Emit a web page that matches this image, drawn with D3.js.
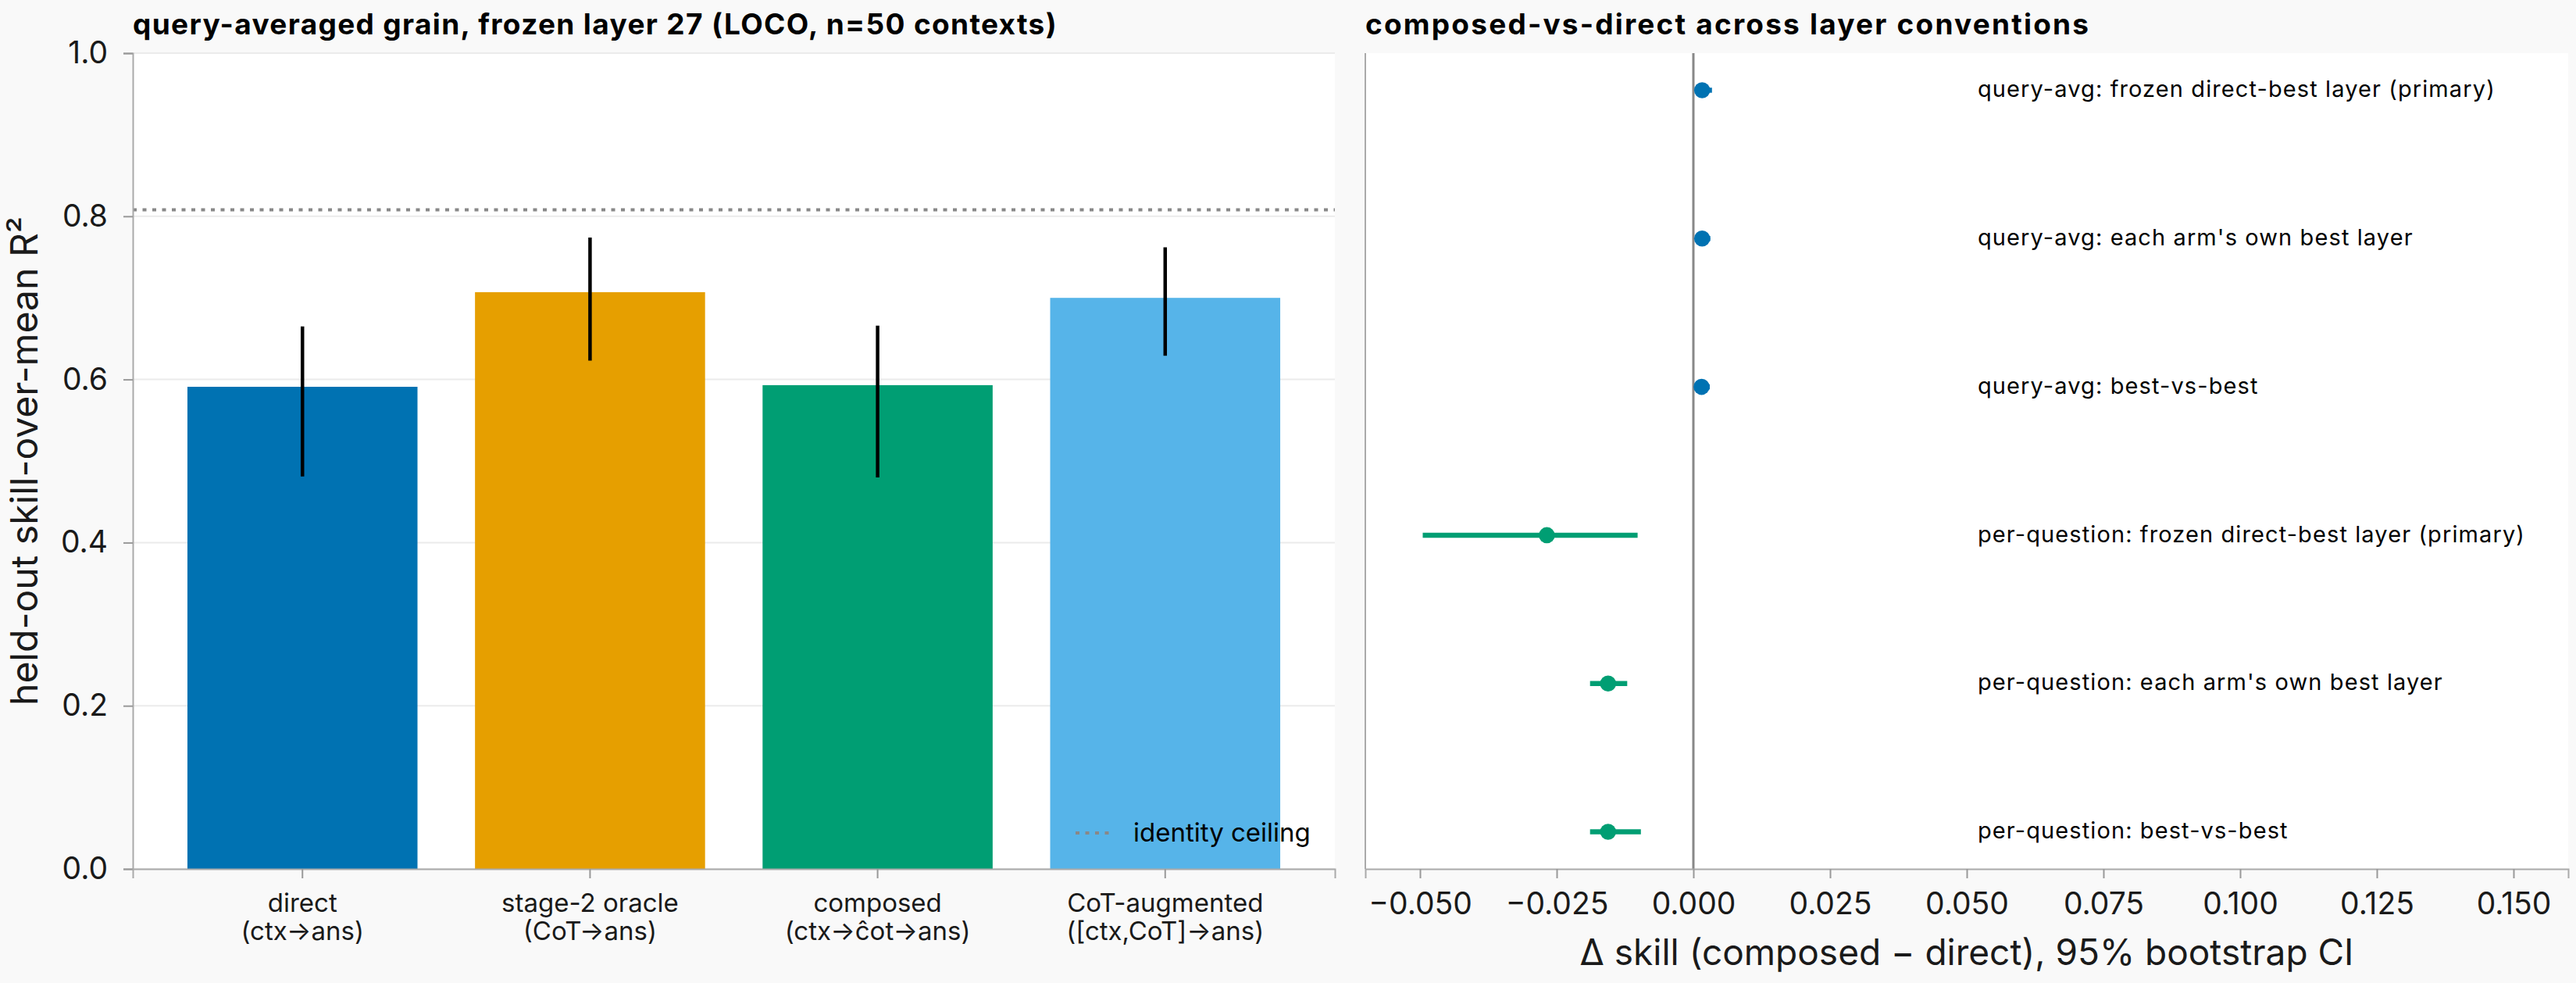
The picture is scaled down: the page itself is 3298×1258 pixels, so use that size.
<!DOCTYPE html>
<html>
<head>
<meta charset="utf-8">
<script src="https://cdn.jsdelivr.net/npm/d3@7"></script>
<style>
  html, body { margin: 0; padding: 0; background: #f9f9f9; }
  svg { display: block; font-family: Inter, "Noto Sans", sans-serif; }
</style>
</head>
<body>
<svg id="chart" width="3298" height="1258"></svg>
<script>
// ---- data: left panel ----
const categories = ["direct", "stage-2 oracle", "composed", "CoT-augmented"];
const categorySub = ["(ctx→ans)", "(CoT→ans)", "(ctx→ĉot→ans)", "([ctx,CoT]→ans)"];
const barValues = [0.591, 0.707, 0.593, 0.700];
const barLow = [0.481, 0.623, 0.480, 0.629];
const barHigh = [0.665, 0.774, 0.666, 0.762];
const barColors = ["#0072B2", "#E69F00", "#009E73", "#56B4E9"];
const identityCeiling = 0.808;
const yTicks = [0.0, 0.2, 0.4, 0.6, 0.8, 1.0];

// ---- data: right panel ----
const conventions = [
  "query-avg: frozen direct-best layer (primary)",
  "query-avg: each arm's own best layer",
  "query-avg: best-vs-best",
  "per-question: frozen direct-best layer (primary)",
  "per-question: each arm's own best layer",
  "per-question: best-vs-best"
];
const deltaEst = [0.0016, 0.0016, 0.0015, -0.0268, -0.0156, -0.0156];
const deltaLow = [0.0008, 0.0008, 0.0007, -0.0495, -0.0189, -0.0189];
const deltaHigh = [0.0034, 0.0031, 0.0030, -0.0102, -0.0121, -0.0096];
const convGroup = ["query", "query", "query", "question", "question", "question"];
const groupColors = { query: "#0072B2", question: "#009E73" };
const xTicksRight = [-0.05, -0.025, 0, 0.025, 0.05, 0.075, 0.1, 0.125, 0.15];

const svg = d3.select("#chart");
svg.append("rect").attr("width", 3298).attr("height", 1258).attr("fill", "#f9f9f9");

const plotTop = 68, plotBottom = 1112;
const axisGrey = "#aaaaaa";
const tickGrey = "#999999";
const textCol = "#1a1a1a";

// ================= LEFT PANEL =================
const L = { left: 170, right: 1709 };
const xL = d3.scaleBand().domain(categories).range([L.left, L.right]).paddingInner(0.2).paddingOuter(0.19);
const yL = d3.scaleLinear().domain([0, 1]).range([plotBottom, plotTop]);

const gL = svg.append("g");
gL.append("rect").attr("x", L.left).attr("y", plotTop).attr("width", L.right - L.left).attr("height", plotBottom - plotTop).attr("fill", "#ffffff");

// grid
gL.append("g").selectAll("line").data(yTicks).join("line")
  .attr("x1", L.left).attr("x2", L.right)
  .attr("y1", d => yL(d)).attr("y2", d => yL(d))
  .attr("stroke", "#ebebeb").attr("stroke-width", 2);

// bars
gL.append("g").selectAll("rect").data(categories).join("rect")
  .attr("x", d => xL(d)).attr("width", xL.bandwidth())
  .attr("y", (d, i) => yL(barValues[i])).attr("height", (d, i) => yL(0) - yL(barValues[i]))
  .attr("fill", (d, i) => barColors[i]);

// error bars
gL.append("g").selectAll("line").data(categories).join("line")
  .attr("x1", d => xL(d) + xL.bandwidth() / 2).attr("x2", d => xL(d) + xL.bandwidth() / 2)
  .attr("y1", (d, i) => yL(barLow[i])).attr("y2", (d, i) => yL(barHigh[i]))
  .attr("stroke", "#000").attr("stroke-width", 4.5);

// identity ceiling
gL.append("line")
  .attr("x1", L.left).attr("x2", L.right)
  .attr("y1", yL(identityCeiling)).attr("y2", yL(identityCeiling))
  .attr("stroke", "#888888").attr("stroke-width", 4).attr("stroke-dasharray", "5,7.5");

// y axis
const yAxisL = d3.axisLeft(yL).tickValues(yTicks).tickFormat(d3.format(".1f")).tickSize(12).tickPadding(20);
const gyL = gL.append("g").attr("transform", `translate(${L.left},0)`).call(yAxisL);
gyL.select(".domain").attr("stroke", axisGrey).attr("stroke-width", 2);
gyL.selectAll(".tick line").attr("stroke", tickGrey).attr("stroke-width", 2);
gyL.selectAll(".tick text").attr("font-size", 39).attr("fill", textCol).attr("font-family", "Inter");

// x axis
const xAxisL = d3.axisBottom(xL).tickSize(12).tickFormat("");
const gxL = gL.append("g").attr("transform", `translate(0,${plotBottom})`).call(xAxisL);
gxL.select(".domain").attr("stroke", axisGrey).attr("stroke-width", 2);
gxL.selectAll(".tick line").attr("stroke", tickGrey).attr("stroke-width", 2);
gxL.selectAll(".tick").each(function(d, i) {
  const t = d3.select(this).append("text").attr("fill", textCol).attr("font-size", 33)
    .attr("text-anchor", "middle").attr("font-family", "Inter");
  t.append("tspan").attr("x", 0).attr("y", 55).text(categories[i]);
  t.append("tspan").attr("x", 0).attr("y", 91).text(categorySub[i]);
});

// y label
svg.append("text").attr("transform", `translate(48,${(plotTop + plotBottom) / 2}) rotate(-90)`)
  .attr("text-anchor", "middle").attr("font-size", 48).attr("fill", textCol)
  .text("held-out skill-over-mean R²");

// title
svg.append("text").attr("x", L.left).attr("y", 44).attr("font-size", 37).attr("font-weight", "bold")
  .attr("letter-spacing", 1.35).attr("fill", "#000")
  .text("query-averaged grain, frozen layer 27 (LOCO, n=50 contexts)");

// legend
const lg = svg.append("g");
lg.append("line").attr("x1", 1377).attr("x2", 1425).attr("y1", 1066).attr("y2", 1066)
  .attr("stroke", "#888888").attr("stroke-width", 4).attr("stroke-dasharray", "5,7.5");
lg.append("text").attr("x", 1451).attr("y", 1077).attr("font-size", 33).attr("fill", "#000").text("identity ceiling");

// ================= RIGHT PANEL =================
const R = { left: 1748, right: 3288 };
const xR = d3.scaleLinear().domain([-0.06, 0.16]).range([R.left, R.right]);
const yR = d3.scalePoint().domain(conventions).range([plotTop, plotBottom]).padding(0.25);

const gR = svg.append("g");
gR.append("rect").attr("x", R.left).attr("y", plotTop).attr("width", R.right - R.left).attr("height", plotBottom - plotTop).attr("fill", "#ffffff");

// zero line
gR.append("line").attr("x1", xR(0)).attr("x2", xR(0)).attr("y1", plotTop).attr("y2", plotBottom)
  .attr("stroke", "#888888").attr("stroke-width", 3);

// error bars
gR.append("g").selectAll("line").data(conventions).join("line")
  .attr("x1", (d, i) => xR(deltaLow[i])).attr("x2", (d, i) => xR(deltaHigh[i]))
  .attr("y1", d => yR(d)).attr("y2", d => yR(d))
  .attr("stroke", (d, i) => groupColors[convGroup[i]]).attr("stroke-width", 6.5);

// points
gR.append("g").selectAll("circle").data(conventions).join("circle")
  .attr("cx", (d, i) => xR(deltaEst[i])).attr("cy", d => yR(d)).attr("r", 10.3)
  .attr("fill", (d, i) => groupColors[convGroup[i]]);

// labels
gR.append("g").selectAll("text").data(conventions).join("text")
  .attr("x", xR(0.052)).attr("y", d => yR(d)).attr("dy", "0.3em")
  .attr("font-size", 29).attr("letter-spacing", 1.1).attr("fill", "#000").text(d => d);

// axes
const xAxisR = d3.axisBottom(xR).tickValues(xTicksRight).tickSize(12).tickPadding(18)
  .tickFormat(d => (d < 0 ? "−" : "") + d3.format(".3f")(Math.abs(d)));
const gxR = gR.append("g").attr("transform", `translate(0,${plotBottom})`).call(xAxisR);
gxR.select(".domain").attr("stroke", axisGrey).attr("stroke-width", 2);
gxR.selectAll(".tick line").attr("stroke", tickGrey).attr("stroke-width", 2);
gxR.selectAll(".tick text").attr("font-size", 39).attr("fill", textCol).attr("font-family", "Inter");

gR.append("line").attr("x1", R.left).attr("x2", R.left).attr("y1", plotTop).attr("y2", plotBottom)
  .attr("stroke", axisGrey).attr("stroke-width", 2);

svg.append("text").attr("x", (R.left + R.right) / 2).attr("y", 1235).attr("text-anchor", "middle")
  .attr("font-size", 46).attr("fill", textCol).text("Δ skill (composed − direct), 95% bootstrap CI");

svg.append("text").attr("x", R.left).attr("y", 44).attr("font-size", 37).attr("font-weight", "bold")
  .attr("letter-spacing", 2.2).attr("fill", "#000").text("composed-vs-direct across layer conventions");
</script>
</body>
</html>
